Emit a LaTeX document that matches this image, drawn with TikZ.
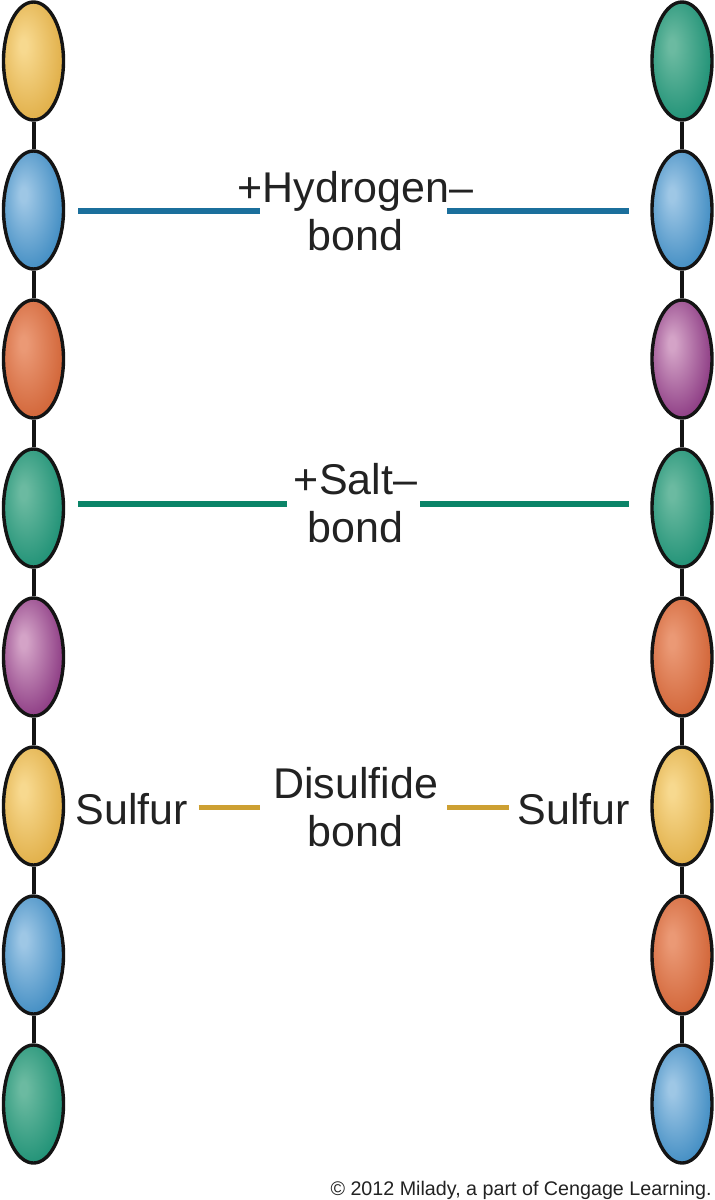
\documentclass[tikz,border=0pt]{standalone}
\usepackage{fontspec}
\setmainfont{Liberation Sans}
\usepackage{tikz}
\usetikzlibrary{positioning, shapes.geometric}
\definecolor{textdark}{HTML}{222222}
\definecolor{beadline}{HTML}{141414}
\definecolor{hydrogenline}{HTML}{1B6F9C}
\definecolor{saltline}{HTML}{0B8468}
\definecolor{sulfurline}{HTML}{CDA032}
\newcommand{\beadshade}[3]{\pgfdeclareradialshading{#1}{\pgfpoint{-9bp}{7bp}}{rgb(0bp)=(#2); rgb(3bp)=(#2); rgb(38bp)=(#3); rgb(50bp)=(#3)}}
\beadshade{goldball}{0.97,0.85,0.56}{0.85,0.63,0.19}
\beadshade{blueball}{0.62,0.78,0.90}{0.14,0.48,0.72}
\beadshade{orangeball}{0.92,0.60,0.46}{0.79,0.33,0.14}
\beadshade{greenball}{0.42,0.73,0.63}{0.03,0.52,0.41}
\beadshade{purpleball}{0.83,0.64,0.78}{0.46,0.10,0.43}
\tikzset{
bead/.style={ellipse, draw=beadline, line width=1.7pt, inner sep=0pt, minimum width=30pt, minimum height=59pt, shading=#1},
link/.style={draw=beadline, line width=2pt},
bond/.style={line width=3pt, draw=#1},
bondtext/.style={align=center, inner sep=0pt, text=textdark, font=\fontsize{21.5}{23.8}\selectfont},
credit/.style={inner sep=0pt, text=textdark, font=\fontsize{9.85}{11}\selectfont},
node distance=13.8pt,
}
\begin{document}
\begin{tikzpicture}[x=0.5pt, y=0.5pt]
\useasboundingbox (0,0) rectangle (715,-1200);

% left strand
\node[bead=goldball] (l1) at (33.5,-61) {};
\node[bead=blueball, below=of l1] (l2) {};
\node[bead=orangeball, below=of l2] (l3) {};
\node[bead=greenball, below=of l3] (l4) {};
\node[bead=purpleball, below=of l4] (l5) {};
\node[bead=goldball, below=of l5] (l6) {};
\node[bead=blueball, below=of l6] (l7) {};
\node[bead=greenball, below=of l7] (l8) {};

% right strand
\node[bead=greenball] (r1) at (682,-61) {};
\node[bead=blueball, below=of r1] (r2) {};
\node[bead=purpleball, below=of r2] (r3) {};
\node[bead=greenball, below=of r3] (r4) {};
\node[bead=orangeball, below=of r4] (r5) {};
\node[bead=goldball, below=of r5] (r6) {};
\node[bead=orangeball, below=of r6] (r7) {};
\node[bead=blueball, below=of r7] (r8) {};

\draw[link] (l1) -- (l2) (l2) -- (l3) (l3) -- (l4) (l4) -- (l5) (l5) -- (l6) (l6) -- (l7) (l7) -- (l8);
\draw[link] (r1) -- (r2) (r2) -- (r3) (r3) -- (r4) (r4) -- (r5) (r5) -- (r6) (r6) -- (r7) (r7) -- (r8);

% labels
\node[bondtext] (hydrogen) at (355.5,-211) {+Hydrogen–\\bond};
\node[bondtext] (salt) at (355.5,-503) {+Salt–\\bond};
\node[bondtext] (disulfide) at (355.5,-807) {Disulfide\\bond};
\node[bondtext] (sulfurl) at (132,-809) {Sulfur};
\node[bondtext] (sulfurr) at (574,-809) {Sulfur};
\node[credit, anchor=base east] (credit) at (712,-1195) {© 2012 Milady, a part of Cengage Learning.};

\coordinate (hleft) at (260,-211);
\coordinate (hright) at (447,-211);
\coordinate (sleft) at (287,-504);
\coordinate (sright) at (420,-504);
\coordinate (dleft) at (260,-807);
\coordinate (dright) at (447,-807);

\draw[bond=hydrogenline, shorten <=6.5pt] (l2.east |- hleft) -- (hleft);
\draw[bond=hydrogenline, shorten >=10.5pt] (hright) -- (r2.west |- hright);
\draw[bond=saltline, shorten <=6.5pt] (l4.east |- sleft) -- (sleft);
\draw[bond=saltline, shorten >=10.5pt] (sright) -- (r4.west |- sright);
\draw[bond=sulfurline, line width=2.5pt, shorten <=5pt] (sulfurl.east |- dleft) -- (dleft);
\draw[bond=sulfurline, line width=2.5pt, shorten >=4pt] (dright) -- (sulfurr.west |- dright);

\end{tikzpicture}
\end{document}
